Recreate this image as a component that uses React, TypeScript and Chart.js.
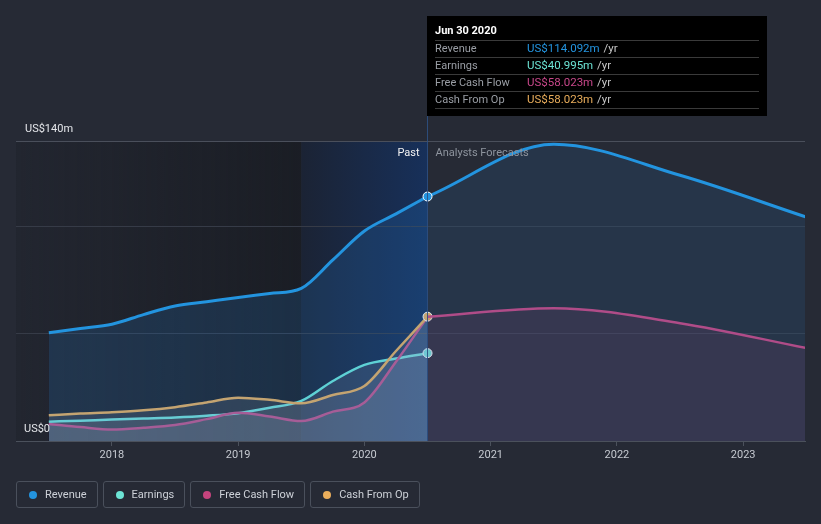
import React, { useEffect, useRef } from "react";
import { Chart, registerables } from "chart.js";
Chart.register(...registerables);

const pastYears = [2017.5, 2017.75, 2018, 2018.25, 2018.5, 2018.75, 2019, 2019.25, 2019.5, 2019.75, 2020, 2020.25, 2020.5];
const revenuePast = [50.5, 52.5, 54.5, 59, 63, 65, 67, 68.8, 71.2, 84.5, 98, 106, 114.092];
const earningsPast = [9, 9.5, 10, 10.5, 11, 11.8, 13, 15.5, 18.7, 28, 35.5, 38.5, 40.995];
const fcfPast = [7.9, 6.5, 5.4, 6.2, 7.5, 10.2, 13.2, 11.4, 9.3, 13.7, 18, 37, 58.023];
const cfoPast = [12, 12.8, 13.4, 14.3, 15.8, 18, 20.2, 19.2, 17.6, 21.5, 25.7, 42, 58.023];
const forecastYears = [2020.5, 2021.5, 2022.5, 2023.5];
const revenueForecast = [114.092, 138.5, 124, 104.5];
const fcfForecast = [58.023, 62, 55, 43.4];
const yTicks = [0, 50, 100, 140];
const yLabels = ["US$0", "US$140m"];
const xTicks = [2018, 2019, 2020, 2021, 2022, 2023];
const xMin = 2017.24;
const xMax = 2023.49;
const bandStart = 2019.5;
const nowYear = 2020.5;
const tipTitle = "Jun 30 2020";
const tipRows = [
  { label: "Revenue", value: "US$114.092m", color: "#2394df" },
  { label: "Earnings", value: "US$40.995m", color: "#6ce4d5" },
  { label: "Free Cash Flow", value: "US$58.023m", color: "#c8478a" },
  { label: "Cash From Op", value: "US$58.023m", color: "#e9ad5b" },
];
const legendItems = [
  { label: "Revenue", color: "#2394df" },
  { label: "Earnings", color: "#6ce4d5" },
  { label: "Free Cash Flow", color: "#c5447e" },
  { label: "Cash From Op", color: "#e9ad5b" },
];

const REV = "#2394df";
const EARN = "#6ce4d5";
const FCF = "#c5447e";
const CFO = "#e9ad5b";
const BG = "#262a35";
const FONT = "Roboto, 'Open Sans', sans-serif";

const pts = (xs: number[], ys: number[]) => xs.map((x, i) => ({ x, y: ys[i] }));

const bandPlugin = {
  id: "bands",
  beforeDraw(chart: any) {
    const { ctx, chartArea: a, scales } = chart;
    const x = scales.x;
    const xs = x.getPixelForValue(bandStart);
    const xn = x.getPixelForValue(nowYear);
    ctx.save();
    let g = ctx.createLinearGradient(a.left, 0, xs, 0);
    g.addColorStop(0, "rgba(28,31,39,0.35)");
    g.addColorStop(1, "rgba(26,29,36,0.95)");
    ctx.fillStyle = g;
    ctx.fillRect(a.left, a.top, xs - a.left, a.bottom - a.top);
    g = ctx.createLinearGradient(xs, 0, xn, 0);
    g.addColorStop(0, "#1b2334");
    g.addColorStop(1, "#17305a");
    ctx.fillStyle = g;
    ctx.fillRect(xs, a.top, xn - xs, a.bottom - a.top);
    ctx.restore();
  },
  afterDraw(chart: any) {
    const { ctx, chartArea: a, scales } = chart;
    const x = scales.x;
    const y = scales.y;
    const xn = x.getPixelForValue(nowYear);
    ctx.save();
    ctx.strokeStyle = "rgba(45,80,130,0.9)";
    ctx.lineWidth = 1;
    ctx.beginPath();
    ctx.moveTo(Math.round(xn) - 0.5, 116);
    ctx.lineTo(Math.round(xn) - 0.5, a.bottom);
    ctx.stroke();
    ctx.font = `11px ${FONT}`;
    ctx.fillStyle = "#e4e6ea";
    ctx.textBaseline = "middle";
    ctx.textAlign = "left";
    ctx.fillText(yLabels[1], a.left + 9, y.getPixelForValue(yTicks[3]) - 12);
    ctx.fillText(yLabels[0], a.left + 8, y.getPixelForValue(yTicks[0]) - 12);
    ctx.textAlign = "right";
    ctx.fillStyle = "#f2f2f2";
    ctx.fillText("Past", xn - 8, a.top + 12);
    ctx.textAlign = "left";
    ctx.fillStyle = "#8e949e";
    ctx.fillText("Analysts Forecasts", xn + 8, a.top + 12);
    const tx = Math.round(xn) - 1;
    const ty = 16;
    const tw = 340;
    const th = 100;
    ctx.fillStyle = "#000000";
    ctx.fillRect(tx, ty, tw, th);
    ctx.font = `bold 11px ${FONT}`;
    ctx.fillStyle = "#ffffff";
    ctx.fillText(tipTitle, tx + 8, ty + 15);
    ctx.strokeStyle = "#3a3a3a";
    for (let i = 0; i < 5; i++) {
      const ly = ty + 24.5 + i * 17;
      ctx.beginPath();
      ctx.moveTo(tx + 8, ly);
      ctx.lineTo(tx + tw - 8, ly);
      ctx.stroke();
    }
    tipRows.forEach((r, i) => {
      const cy = ty + 33 + i * 17;
      ctx.font = `11px ${FONT}`;
      ctx.fillStyle = "#9a9ea5";
      ctx.fillText(r.label, tx + 8, cy);
      ctx.font = `11.5px ${FONT}`;
      ctx.fillStyle = r.color;
      ctx.fillText(r.value, tx + 100, cy);
      const w = ctx.measureText(r.value).width;
      ctx.fillStyle = "#c9c9c9";
      ctx.fillText(" /yr", tx + 100 + w + 1, cy);
    });
    ctx.restore();
  },
};

export default function App() {
  const ref = useRef<HTMLCanvasElement>(null);
  useEffect(() => {
    document.body.style.margin = "0";
    document.body.style.background = BG;
    const canvas = ref.current!;
    const pointAtEnd = (n: number) => (ctx: any) => (ctx.dataIndex === n - 1 ? 4.5 : 0);
    const grayFill = "rgba(190,192,202,0.14)";
    const chart = new Chart(canvas, {
      type: "line",
      data: {
        datasets: [
          {
            label: "Revenue",
            data: pts(pastYears, revenuePast),
            borderColor: REV,
            backgroundColor: "rgba(35,130,210,0.19)",
            pointBackgroundColor: REV,
            pointBorderColor: "#ffffff",
            pointBorderWidth: 1,
            pointRadius: pointAtEnd(pastYears.length),
            fill: "origin",
            borderWidth: 3,
            order: 0,
          } as any,
          {
            label: "Revenue forecast",
            data: pts(forecastYears, revenueForecast),
            borderColor: REV,
            backgroundColor: "rgba(35,130,210,0.13)",
            pointRadius: 0,
            fill: "origin",
            borderWidth: 3,
            order: 1,
          },
          {
            label: "FCF forecast",
            data: pts(forecastYears, fcfForecast),
            borderColor: FCF,
            backgroundColor: "rgba(197,68,126,0.12)",
            pointRadius: 0,
            fill: "origin",
            borderWidth: 2.5,
            order: 2,
          },
          {
            label: "Cash From Op",
            data: pts(pastYears, cfoPast),
            borderColor: CFO,
            backgroundColor: grayFill,
            pointBackgroundColor: CFO,
            pointBorderColor: "#ffffff",
            pointBorderWidth: 1,
            pointRadius: pointAtEnd(pastYears.length),
            fill: "origin",
            borderWidth: 2.5,
            order: 3,
          } as any,
          {
            label: "Free Cash Flow",
            data: pts(pastYears, fcfPast),
            borderColor: FCF,
            backgroundColor: grayFill,
            pointRadius: 0,
            fill: "origin",
            borderWidth: 2.5,
            order: 4,
          },
          {
            label: "Earnings",
            data: pts(pastYears, earningsPast),
            borderColor: EARN,
            backgroundColor: grayFill,
            pointBackgroundColor: EARN,
            pointBorderColor: "#ffffff",
            pointBorderWidth: 1,
            pointRadius: pointAtEnd(pastYears.length),
            fill: "origin",
            borderWidth: 2.5,
            order: 5,
          } as any,
        ],
      },
      options: {
        animation: false,
        responsive: false,
        maintainAspectRatio: false,
        layout: { padding: { left: 16, right: 16, top: 141, bottom: 61 } },
        elements: { line: { cubicInterpolationMode: "monotone", tension: 0.4 } },
        plugins: { legend: { display: false }, tooltip: { enabled: false } },
        scales: {
          x: {
            type: "linear",
            min: xMin,
            max: xMax,
            afterBuildTicks: (s: any) => {
              s.ticks = xTicks.map((v) => ({ value: v }));
            },
            afterFit: (s: any) => {
              s.height = 22;
            },
            grid: { drawOnChartArea: false, drawTicks: true, tickLength: 5, color: "#4b515c" },
            border: { display: true, color: "#4b515c", width: 1 },
            ticks: {
              color: "#c6cad1",
              font: { size: 11, family: FONT },
              padding: 3,
              callback: (v: any) => String(v),
            },
          },
          y: {
            type: "linear",
            min: yTicks[0],
            max: yTicks[yTicks.length - 1],
            afterBuildTicks: (s: any) => {
              s.ticks = yTicks.map((v) => ({ value: v }));
            },
            afterFit: (s: any) => {
              s.width = 0;
            },
            grid: {
              drawTicks: false,
              color: (c: any) => (c.tick && c.tick.value === yTicks[yTicks.length - 1] ? "#4a4f5b" : c.tick && c.tick.value === 0 ? "rgba(0,0,0,0)" : "#363b47"),
            },
            border: { display: false },
            ticks: { display: false },
          },
        },
      },
      plugins: [bandPlugin],
    } as any);
    return () => chart.destroy();
  }, []);

  return (
    <div style={{ position: "relative", width: 821, height: 524, background: BG, fontFamily: FONT }}>
      <canvas ref={ref} width={821} height={524} style={{ display: "block" }} />
      <div style={{ position: "absolute", left: 16, top: 481, display: "flex", gap: 5 }}>
        {legendItems.map((it) => (
          <div
            key={it.label}
            style={{
              height: 25,
              border: "1px solid #4a505c",
              borderRadius: 3,
              display: "flex",
              alignItems: "center",
              padding: "0 10px 0 12px",
              fontSize: 11,
              color: "#cdd1d8",
              whiteSpace: "nowrap",
            }}
          >
            <span style={{ width: 8, height: 8, borderRadius: 4, background: it.color, marginRight: 8, display: "inline-block" }} />
            {it.label}
          </div>
        ))}
      </div>
    </div>
  );
}
